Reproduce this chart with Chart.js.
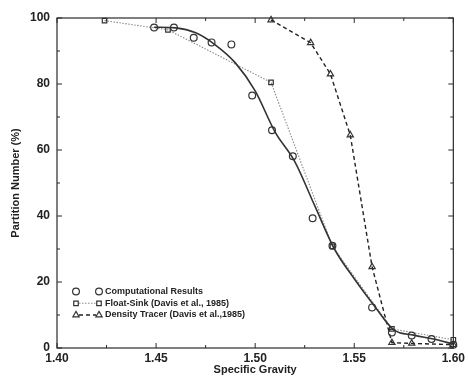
<!DOCTYPE html>
<html>
<head>
<meta charset="utf-8">
<script src="https://cdn.jsdelivr.net/npm/chart.js@4.4.1/dist/chart.umd.min.js"></script>
<style>
  html, body { margin: 0; padding: 0; background: #fff; }
  #wrap { width: 468px; height: 377px; position: relative; }
</style>
</head>
<body>
<div id="wrap"><canvas id="chart"></canvas></div>
<script>
// values
const compX = [1.449, 1.459, 1.469, 1.478, 1.488, 1.4985, 1.5085, 1.519, 1.529, 1.539, 1.559, 1.569, 1.579, 1.589, 1.600];
const compY = [97.1, 97.1, 94.0, 92.6, 92.0, 76.5, 66.0, 58.1, 39.3, 31.0, 12.3, 4.7, 3.8, 2.7, 1.0];

const fitX = [1.449, 1.46, 1.47, 1.48, 1.49, 1.50, 1.51, 1.52, 1.53, 1.54, 1.55, 1.56, 1.57, 1.58, 1.59, 1.60];
const fitY = [97.2, 97.0, 95.5, 91.8, 86.4, 77.9, 65.5, 56.5, 43.2, 30.0, 21.0, 12.9, 5.5, 3.9, 2.7, 1.2];

const floatX = [1.424, 1.456, 1.508, 1.539, 1.569, 1.600];
const floatY = [99.2, 96.4, 80.5, 30.8, 5.8, 2.5];

const tracerX = [1.508, 1.528, 1.538, 1.548, 1.559, 1.569, 1.579, 1.600];
const tracerY = [99.4, 92.5, 83.0, 64.5, 24.6, 1.6, 1.4, 1.0];

const xTicks = [1.40, 1.45, 1.50, 1.55, 1.60];
const yTicks = [0, 20, 40, 60, 80, 100];

const legendLabels = [
  'Computational Results',
  'Float-Sink (Davis et al., 1985)',
  'Density Tracer (Davis et al.,1985)'
];

const FONT = '"Liberation Sans", Arial, sans-serif';
const pts = (xs, ys) => xs.map((x, i) => ({ x: x, y: ys[i] }));

// frame with inward ticks on all four sides
const framePlugin = {
  id: 'frame',
  beforeDatasetsDraw(chart) {
    const { ctx, chartArea: a, scales: { x, y } } = chart;
    ctx.save();
    ctx.strokeStyle = '#2a2a2a';
    ctx.lineWidth = 1.2;
    ctx.strokeRect(a.left, a.top, a.right - a.left, a.bottom - a.top);
    ctx.lineWidth = 1;
    const tick = (x1, y1, x2, y2) => { ctx.beginPath(); ctx.moveTo(x1, y1); ctx.lineTo(x2, y2); ctx.stroke(); };
    for (let i = 0; i < xTicks.length; i++) {
      const px = x.getPixelForValue(xTicks[i]);
      tick(px, a.bottom, px, a.bottom - 5);
      tick(px, a.top, px, a.top + 5);
      if (i < xTicks.length - 1) {
        const mx = x.getPixelForValue((xTicks[i] + xTicks[i + 1]) / 2);
        tick(mx, a.bottom, mx, a.bottom - 3);
        tick(mx, a.top, mx, a.top + 3);
      }
    }
    for (let i = 0; i < yTicks.length; i++) {
      const py = y.getPixelForValue(yTicks[i]);
      tick(a.left, py, a.left + 5, py);
      tick(a.right, py, a.right - 5, py);
      if (i < yTicks.length - 1) {
        const my = y.getPixelForValue((yTicks[i] + yTicks[i + 1]) / 2);
        tick(a.left, my, a.left + 3, my);
        tick(a.right, my, a.right - 3, my);
      }
    }
    ctx.restore();
  }
};

// legend drawn like the original: marker, line, marker, label
const legendPlugin = {
  id: 'oldLegend',
  afterDraw(chart) {
    const { ctx } = chart;
    const sets = [chart.data.datasets[0], chart.data.datasets[2], chart.data.datasets[3]];
    const x1 = 76, x2 = 99, tx = 105;
    const rows = [291.5, 303.3, 315];
    ctx.save();
    ctx.font = 'bold 9px ' + FONT;
    ctx.textBaseline = 'middle';
    sets.forEach((ds, i) => {
      const yy = rows[i];
      if (ds.showLine !== false) {
        ctx.strokeStyle = ds.borderColor;
        ctx.lineWidth = ds.borderWidth;
        ctx.setLineDash(ds.borderDash || []);
        ctx.beginPath(); ctx.moveTo(x1 + 3, yy); ctx.lineTo(x2 - 3, yy); ctx.stroke();
        ctx.setLineDash([]);
      }
      [x1, x2].forEach(px => {
        ctx.strokeStyle = ds.pointBorderColor;
        ctx.fillStyle = '#fff';
        ctx.lineWidth = ds.pointBorderWidth;
        Chart.helpers.drawPoint(ctx, {
          pointStyle: ds.pointStyle, radius: ds.pointRadius, borderWidth: ds.pointBorderWidth
        }, px, yy);
      });
      ctx.fillStyle = '#222';
      ctx.fillText(legendLabels[i], tx, yy);
    });
    ctx.restore();
  }
};

new Chart(document.getElementById('chart'), {
  type: 'scatter',
  data: {
    datasets: [
      {
        label: legendLabels[0],
        data: pts(compX, compY),
        showLine: false,
        pointStyle: 'circle',
        pointRadius: 3.4,
        pointBorderWidth: 1.2,
        pointBorderColor: '#333',
        pointBackgroundColor: 'rgba(255,255,255,0)',
        clip: false
      },
      {
        label: 'fit',
        data: pts(fitX, fitY),
        showLine: true,
        borderColor: '#333',
        borderWidth: 1.6,
        cubicInterpolationMode: 'monotone',
        pointRadius: 0,
        clip: false
      },
      {
        label: legendLabels[1],
        data: pts(floatX, floatY),
        showLine: true,
        borderColor: '#8a8a8a',
        borderWidth: 1.1,
        borderDash: [1.5, 1.5],
        pointStyle: 'rect',
        pointRadius: 3.2,
        pointBorderWidth: 1.2,
        pointBorderColor: '#333',
        pointBackgroundColor: 'rgba(255,255,255,0)',
        clip: false
      },
      {
        label: legendLabels[2],
        data: pts(tracerX, tracerY),
        showLine: true,
        borderColor: '#222',
        borderWidth: 1.4,
        borderDash: [4, 3],
        pointStyle: 'triangle',
        pointRadius: 3.6,
        pointBorderWidth: 1.2,
        pointBorderColor: '#333',
        pointBackgroundColor: 'rgba(255,255,255,0)',
        clip: false
      }
    ]
  },
  options: {
    responsive: true,
    maintainAspectRatio: false,
    animation: false,
    layout: { padding: { top: 18, right: 10, left: 0, bottom: 0 } },
    plugins: {
      legend: { display: false },
      tooltip: { enabled: false }
    },
    scales: {
      x: {
        type: 'linear',
        min: 1.40,
        max: 1.60,
        afterBuildTicks: s => { s.ticks = xTicks.map(v => ({ value: v })); },
        afterFit: s => { s.height = 29; },
        grid: { display: false, drawTicks: false },
        border: { display: false },
        ticks: {
          padding: 3,
          color: '#222',
          font: { family: FONT, size: 12, weight: 'bold' },
          callback: v => v.toFixed(2)
        },
        title: {
          display: true,
          text: 'Specific Gravity',
          color: '#222',
          font: { family: FONT, size: 11, weight: 'bold' },
          padding: { top: 0, bottom: 0 }
        }
      },
      y: {
        min: 0,
        max: 100,
        afterBuildTicks: s => { s.ticks = yTicks.map(v => ({ value: v })); },
        afterFit: s => { s.width = 57; },
        grid: { display: false, drawTicks: false },
        border: { display: false },
        ticks: {
          padding: 7,
          color: '#222',
          font: { family: FONT, size: 12, weight: 'bold' }
        },
        title: {
          display: true,
          text: 'Partition Number (%)',
          color: '#222',
          font: { family: FONT, size: 11, weight: 'bold' },
          padding: { top: 9, bottom: 0 }
        }
      }
    }
  },
  plugins: [framePlugin, legendPlugin]
});
</script>
</body>
</html>
